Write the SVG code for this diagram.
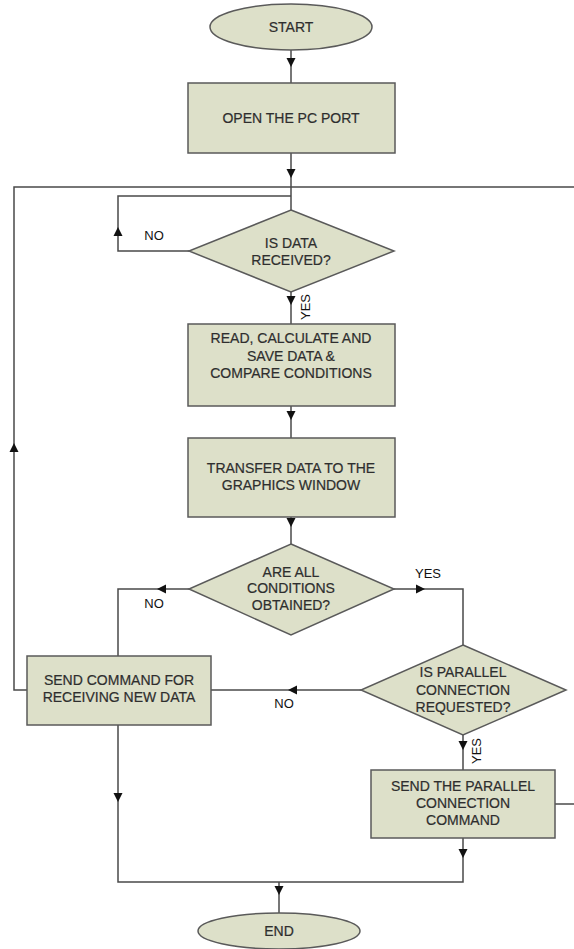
<svg xmlns="http://www.w3.org/2000/svg" xmlns:xlink="http://www.w3.org/1999/xlink" width="574" height="949" viewBox="0 0 574 949">
<style>
.shape{fill:#dde0c9;stroke:#5a5a5a;stroke-width:1.5}
.t{font-family:"Liberation Sans",Arial,sans-serif;font-size:14px;fill:#2e2e2e;stroke:#2e2e2e;stroke-width:0.2;text-anchor:middle}
.lbl{font-family:"Liberation Sans",Arial,sans-serif;font-size:13px;fill:#111;text-anchor:middle}
.ln{fill:none;stroke:#4a4a4a;stroke-width:1.5}
.ah{fill:#111}
</style>
<defs>
<path id="ah" class="ah" d="M0,0 L-4.5,-9 L4.5,-9 Z"/>
</defs>
<rect width="574" height="949" fill="#fff"/>
<g id="connectors">
<path class="ln" d="M291,50 V83"/>
<path class="ln" d="M291,153 V210"/>
<path class="ln" d="M189,251 H118 V196 H291"/>
<path class="ln" d="M291,292 V324"/>
<path class="ln" d="M291,406 V438"/>
<path class="ln" d="M291,517 V544"/>
<path class="ln" d="M189,589 H118 V656"/>
<path class="ln" d="M394,589 H463 V645"/>
<path class="ln" d="M361,690 H211"/>
<path class="ln" d="M27,690 H14 V187 H574"/>
<path class="ln" d="M463,735 V770"/>
<path class="ln" d="M555,804 H574"/>
<path class="ln" d="M118,725 V882 H463 V838"/>
<path class="ln" d="M279,882 V913"/>
<use xlink:href="#ah" transform="translate(291,67)"/>
<use xlink:href="#ah" transform="translate(291,178)"/>
<use xlink:href="#ah" transform="translate(118,227) rotate(180)"/>
<use xlink:href="#ah" transform="translate(291,305)"/>
<use xlink:href="#ah" transform="translate(291,420)"/>
<use xlink:href="#ah" transform="translate(291,527)"/>
<use xlink:href="#ah" transform="translate(14,443) rotate(180)"/>
<use xlink:href="#ah" transform="translate(157,589) rotate(90)"/>
<use xlink:href="#ah" transform="translate(425,589) rotate(-90)"/>
<use xlink:href="#ah" transform="translate(288,690) rotate(90)"/>
<use xlink:href="#ah" transform="translate(463,750)"/>
<use xlink:href="#ah" transform="translate(118,802)"/>
<use xlink:href="#ah" transform="translate(463,858)"/>
<use xlink:href="#ah" transform="translate(279,895)"/>
<text class="lbl" x="154" y="240">NO</text>
<text class="lbl" transform="translate(310,307) rotate(-90)">YES</text>
<text class="lbl" x="428" y="578">YES</text>
<text class="lbl" x="154" y="608">NO</text>
<text class="lbl" x="284" y="708">NO</text>
<text class="lbl" transform="translate(481,751) rotate(-90)">YES</text>
</g>
<g id="start">
<ellipse class="shape" cx="291" cy="27" rx="81" ry="23"/>
<text class="t" x="291" y="32">START</text>
</g>
<g id="open-port">
<rect class="shape" x="188" y="83" width="207" height="70"/>
<text class="t" x="291" y="123">OPEN THE PC PORT</text>
</g>
<g id="data-received">
<polygon class="shape" points="291,210 394,251 291,292 189,251"/>
<text class="t" x="291" y="248">IS DATA</text>
<text class="t" x="291" y="265">RECEIVED?</text>
</g>
<g id="read-calc">
<rect class="shape" x="188" y="324" width="207" height="82"/>
<text class="t" x="291" y="343">READ, CALCULATE AND</text>
<text class="t" x="291" y="361">SAVE DATA &amp;</text>
<text class="t" x="291" y="378">COMPARE CONDITIONS</text>
</g>
<g id="transfer">
<rect class="shape" x="188" y="438" width="207" height="79"/>
<text class="t" x="291" y="473">TRANSFER DATA TO THE</text>
<text class="t" x="291" y="490">GRAPHICS WINDOW</text>
</g>
<g id="conditions">
<polygon class="shape" points="291,544 394,589 291,635 189,589"/>
<text class="t" x="291" y="577">ARE ALL</text>
<text class="t" x="291" y="593">CONDITIONS</text>
<text class="t" x="291" y="610">OBTAINED?</text>
</g>
<g id="parallel">
<polygon class="shape" points="463,645 566,690 463,735 361,690"/>
<text class="t" x="463" y="677">IS PARALLEL</text>
<text class="t" x="463" y="695">CONNECTION</text>
<text class="t" x="463" y="712">REQUESTED?</text>
</g>
<g id="send-new">
<rect class="shape" x="27" y="656" width="184" height="69"/>
<text class="t" x="119" y="685">SEND COMMAND FOR</text>
<text class="t" x="119" y="702">RECEIVING NEW DATA</text>
</g>
<g id="send-parallel">
<rect class="shape" x="371" y="770" width="184" height="68"/>
<text class="t" x="463" y="791">SEND THE PARALLEL</text>
<text class="t" x="463" y="808">CONNECTION</text>
<text class="t" x="463" y="825">COMMAND</text>
</g>
<g id="end">
<ellipse class="shape" cx="279" cy="931" rx="81" ry="18"/>
<text class="t" x="279" y="936">END</text>
</g>
</svg>
